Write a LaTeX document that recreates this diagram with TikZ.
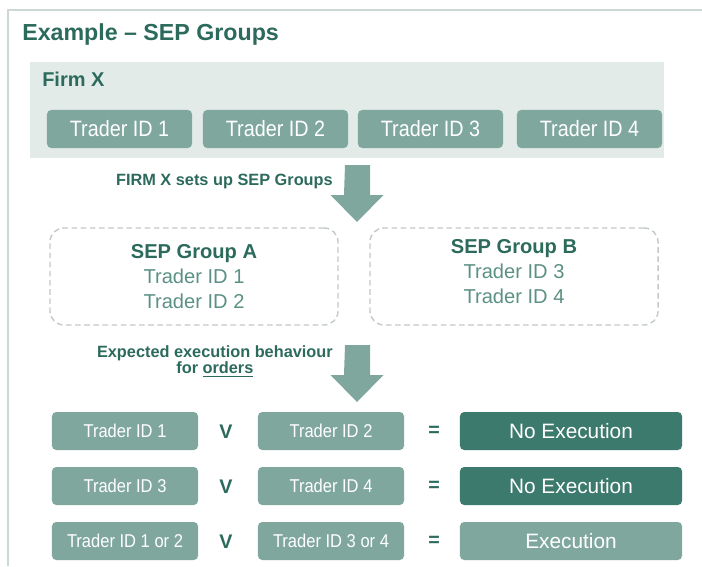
\documentclass[tikz,border=0pt]{standalone}
\usepackage{fontspec}
\setmainfont{Liberation Sans}
\newfontfamily\narrowsans{Liberation Sans}[FakeStretch=0.89]
\definecolor{sepdark}{HTML}{2C6A5C}
\definecolor{sepmid}{HTML}{7FA79E}
\definecolor{sepdeep}{HTML}{3B7A6C}
\definecolor{seppale}{HTML}{E2EBE8}
\definecolor{sepline}{HTML}{CCD8D4}
\definecolor{sepdash}{HTML}{C2CAC7}
\definecolor{septext}{HTML}{5B9084}
\begin{document}
\begin{tikzpicture}[x=0.025cm,y=-0.025cm,
    idbox/.style={fill=sepmid, rounded corners=3pt, minimum width=3.625cm,
      minimum height=0.95cm, text=white, font=\narrowsans\fontsize{15.8}{18}\selectfont},
    rowbox/.style={idbox, minimum width=3.65cm, font=\narrowsans\fontsize{13.2}{15}\selectfont},
    outbox/.style={idbox, minimum width=5.55cm, font=\fontsize{14.8}{17}\selectfont},
    grpbox/.style={draw=sepdash, line width=1pt, dash pattern=on 4pt off 2.5pt,
      rounded corners=10pt, minimum width=7.2cm, minimum height=2.425cm},
    grptext/.style={align=center, text=septext, font=\fontsize{14.3}{17.8}\selectfont},
    opsign/.style={text=sepdark, font=\bfseries\fontsize{14}{16}\selectfont},
    note/.style={text=sepdark, align=center, inner sep=0pt,
      font=\bfseries\fontsize{11.6}{10.6}\selectfont}]
  \useasboundingbox (0,0) rectangle (702,566);
  % outer frame
  \draw[sepline, line width=1.4pt] (8,566) -- (8,10) -- (702,10);
  \node[anchor=base west, inner sep=0pt, text=sepdark, font=\bfseries\fontsize{16.5}{18}\selectfont]
    (title) at (22,40) {Example -- SEP Groups};
  % firm panel
  \node[fill=seppale, minimum width=15.85cm, minimum height=2.4cm] (firm) at (347,110) {};
  \node[anchor=base west, inner sep=0pt, text=sepdark, font=\bfseries\fontsize{14.2}{16}\selectfont]
    (firmlbl) at (42,86) {Firm X};
  \node[idbox] (t1) at (119.5,129) {Trader ID 1};
  \node[idbox] (t2) at (275.5,129) {Trader ID 2};
  \node[idbox] (t3) at (430.5,129) {Trader ID 3};
  \node[idbox] (t4) at (589.5,129) {Trader ID 4};
  % first arrow
  \coordinate (arrA) at (357.5,165);
  \fill[sepmid] (arrA) ++(-12.5,0) -- ++(25,0) -- ++(0,30) -- ++(13.5,0)
    -- ++(-26.5,27) -- ++(-26.5,-27) -- ++(13.5,0) -- cycle;
  \node[note, anchor=base east] (setup) at (333,185) {FIRM X sets up SEP Groups};
  % groups
  \node[grpbox] (grpA) at (194,276.5) {};
  \node[grpbox] (grpB) at (514,276.5) {};
  \node[grptext] (txtA) at (194,277) {\textbf{\color{sepdark}SEP Group A}\\Trader ID 1\\Trader ID 2};
  \node[grptext] (txtB) at (514,272) {\textbf{\color{sepdark}SEP Group B}\\Trader ID 3\\Trader ID 4};
  % second arrow
  \coordinate (arrB) at (357.5,345);
  \fill[sepmid] (arrB) ++(-12.5,0) -- ++(25,0) -- ++(0,30) -- ++(13.5,0)
    -- ++(-26.5,27) -- ++(-26.5,-27) -- ++(13.5,0) -- cycle;
  \node[note, anchor=east] (expect) at (333,361) {Expected execution behaviour\\for \underline{orders}};
  % outcomes
  \node[rowbox] (r1a) at (125,431) {Trader ID 1};
  \node[opsign] (v1) at (226,432) {V};
  \node[rowbox] (r1b) at (331,431) {Trader ID 2};
  \node[opsign] (e1) at (434,431) {=};
  \node[outbox, fill=sepdeep] (res1) at (571,431) {No Execution};
  \node[rowbox] (r2a) at (125,486) {Trader ID 3};
  \node[opsign] (v2) at (226,487) {V};
  \node[rowbox] (r2b) at (331,486) {Trader ID 4};
  \node[opsign] (e2) at (434,486) {=};
  \node[outbox, fill=sepdeep] (res2) at (571,486) {No Execution};
  \node[rowbox] (r3a) at (125,541) {Trader ID 1 or 2};
  \node[opsign] (v3) at (226,542) {V};
  \node[rowbox] (r3b) at (331,541) {Trader ID 3 or 4};
  \node[opsign] (e3) at (434,541) {=};
  \node[outbox] (res3) at (571,541) {Execution};
\end{tikzpicture}
\end{document}
